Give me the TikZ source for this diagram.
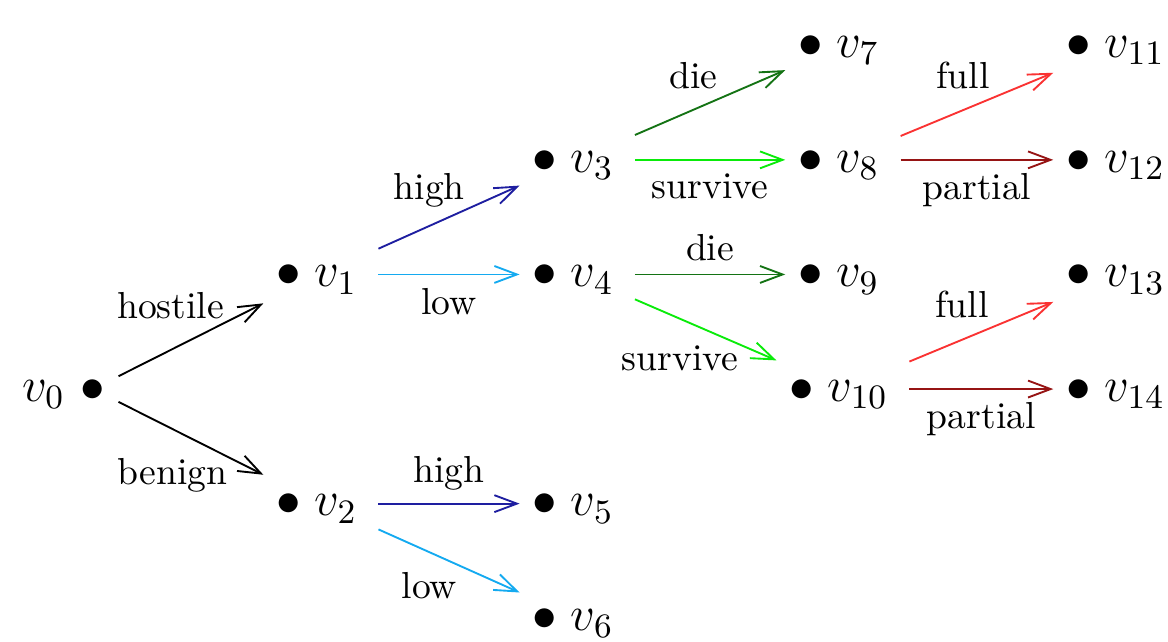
\RequirePackage{fix-cm}
\documentclass[tikz,border=0pt]{standalone}
\definecolor{highblue}{RGB}{30, 30, 160}
\definecolor{lowcyan}{RGB}{20, 170, 240}
\definecolor{diegreen}{RGB}{20, 115, 20}
\definecolor{survgreen}{RGB}{10, 235, 10}
\definecolor{fullred}{RGB}{250, 50, 50}
\definecolor{partred}{RGB}{150, 20, 20}
\usepackage{tikz}
\usetikzlibrary{arrows.meta, positioning}
\usepackage{amsmath, amssymb}

\begin{document}
\begin{tikzpicture}[
  vtx/.style={font=\fontsize{13}{16}\selectfont, text height=7.4pt, text depth=0.9pt},
  arr/.style={line width=0.5pt, -{Straight Barb[length=6pt, width=4.5pt]}},
  lbl/.style={font=\normalsize, black}
]
  \useasboundingbox (-0.869, -2.364) rectangle (10.047, 3.636);
  % root
  \node[vtx, label={[label distance=-2.8pt, vtx]left:$v_0$}] (v0) at (0, 0) {$\bullet$};
  % first level
  \node[vtx] (v1) at (2.129, 1.071) {$\bullet\; v_1\,$};
  \node[vtx] (v2) at (2.129, -1.071) {$\bullet\; v_2\,$};
  % second level
  \node[vtx] (v3) at (4.526, 2.142) {$\bullet\; v_3\,$};
  \node[vtx] (v4) at (4.526, 1.071) {$\bullet\; v_4\,$};
  \node[vtx] (v5) at (4.526, -1.071) {$\bullet\; v_5\,$};
  \node[vtx] (v6) at (4.526, -2.142) {$\bullet\; v_6\,$};
  % third level
  \node[vtx] (v7) at (7.009, 3.213) {$\bullet\; v_7\,$};
  \node[vtx] (v8) at (7.009, 2.142) {$\bullet\; v_8\,$};
  \node[vtx] (v9) at (7.009, 1.071) {$\bullet\; v_9\,$};
  \node[vtx] (v10) at (7.009, 0) {$\bullet\; v_{10}\,$};
  % fourth level
  \node[vtx] (v11) at (9.596, 3.213) {$\bullet\; v_{11}\,$};
  \node[vtx] (v12) at (9.596, 2.142) {$\bullet\; v_{12}\,$};
  \node[vtx] (v13) at (9.596, 1.071) {$\bullet\; v_{13}\,$};
  \node[vtx] (v14) at (9.596, 0) {$\bullet\; v_{14}\,$};

  \draw[arr] (v0) -- node[lbl, above, xshift=-1.9mm, yshift=0.7mm] {hostile} (v1);
  \draw[arr] (v0) -- node[lbl, below, xshift=-1.7mm, yshift=-0.6mm] {benign} (v2);
  \draw[arr, highblue] (v1) -- node[lbl, above, xshift=-1.85mm, yshift=-0.3mm] {high} (v3);
  \draw[arr, lowcyan] (v1) -- node[lbl, below] {low} (v4);
  \draw[arr, highblue] (v2) -- node[lbl, above] {high} (v5);
  \draw[arr, lowcyan] (v2) -- node[lbl, below, xshift=-1.85mm, yshift=0.15mm] {low} (v6);
  \draw[arr, diegreen] (v3) -- node[lbl, above, xshift=-1.55mm] {die} (v7);
  \draw[arr, survgreen] (v3) -- node[lbl, below] {survive} (v8);
  \draw[arr, diegreen] (v4) -- node[lbl, above] {die} (v9);
  \draw[arr, survgreen] (v4) -- node[lbl, below, xshift=-2.4mm, yshift=-0.2mm] {survive} (v10);
  \draw[arr, fullred] (v8) -- node[lbl, above, xshift=-1.3mm, yshift=0.15mm] {full} (v11);
  \draw[arr, partred] (v8) -- node[lbl, below] {partial} (v12);
  \draw[arr, fullred] (v10) -- node[lbl, above, xshift=-1.8mm] {full} (v13);
  \draw[arr, partred] (v10) -- node[lbl, below] {partial} (v14);
\end{tikzpicture}
\end{document}
